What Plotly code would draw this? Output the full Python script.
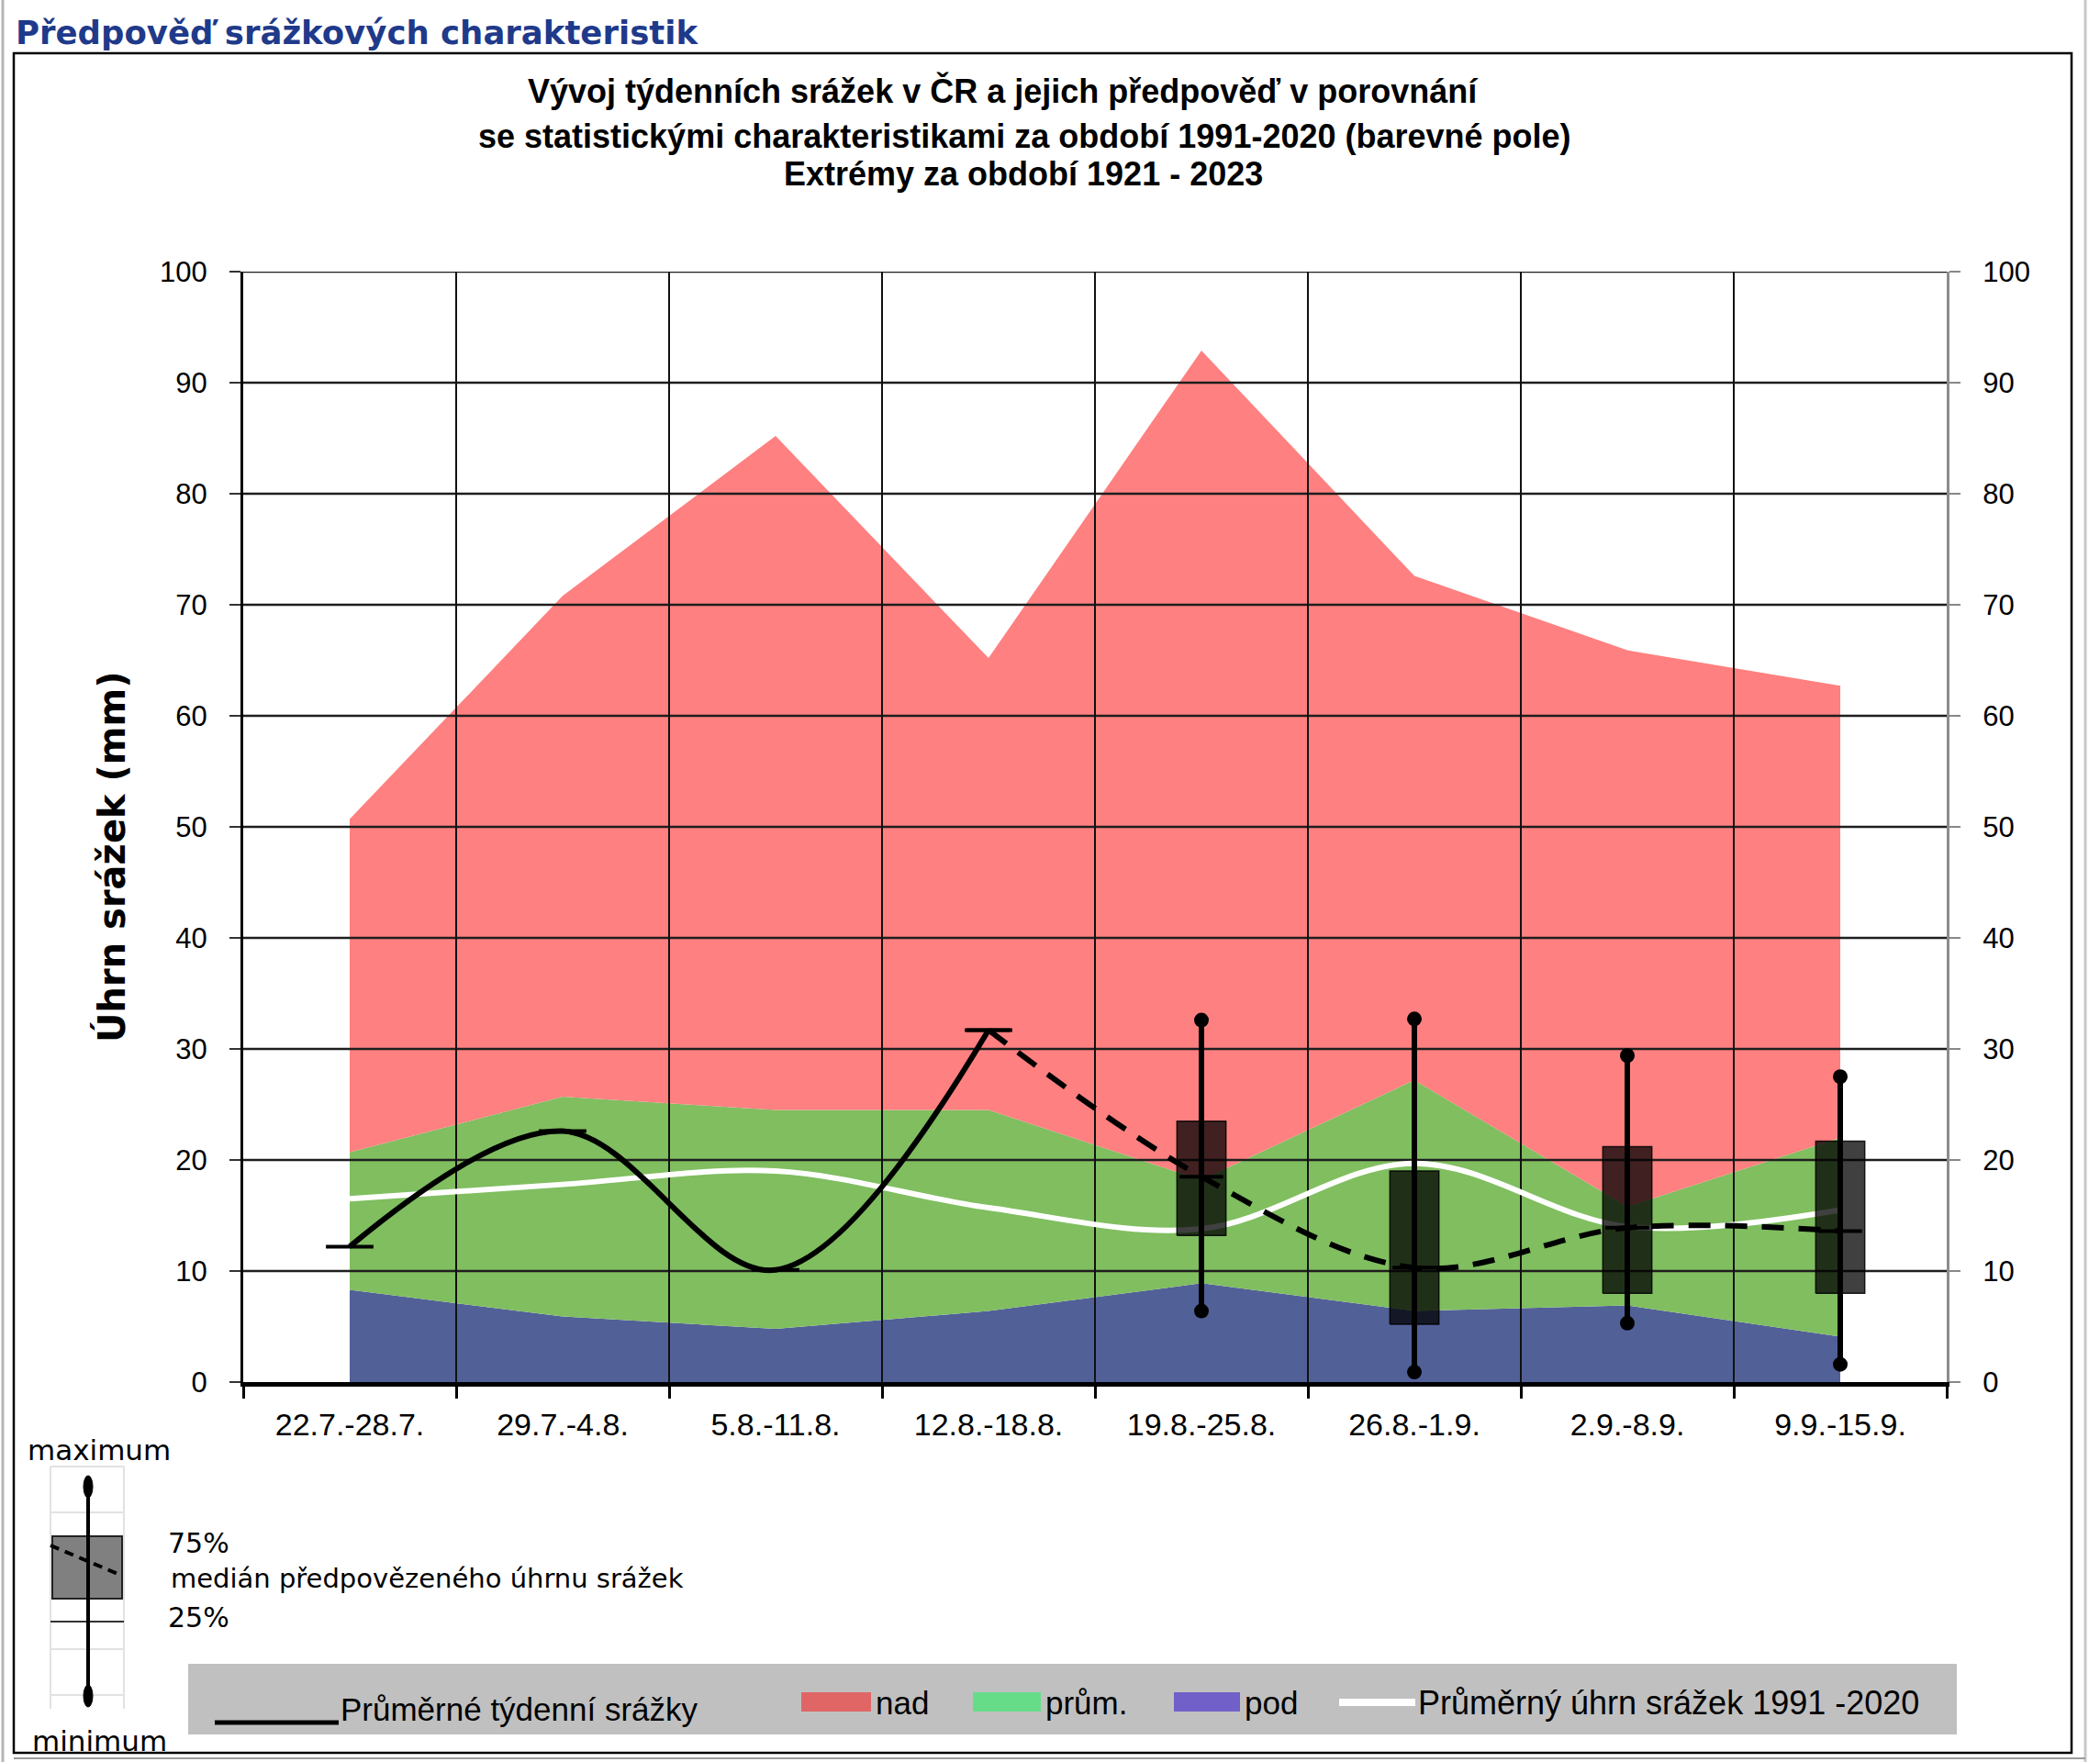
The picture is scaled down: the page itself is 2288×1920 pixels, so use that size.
import plotly.graph_objects as go

# ---------------- data ----------------
categories = ["22.7.-28.7.", "29.7.-4.8.", "5.8.-11.8.", "12.8.-18.8.",
              "19.8.-25.8.", "26.8.-1.9.", "2.9.-8.9.", "9.9.-15.9."]
extreme_max = [50.7, 70.8, 85.2, 65.2, 92.9, 72.6, 65.9, 62.7]   # top of red (nad)
upper_normal = [20.7, 25.7, 24.5, 24.5, 18.2, 27.2, 15.8, 22.0]  # top of green (prům.)
lower_normal = [8.3, 5.9, 4.8, 6.4, 8.9, 6.4, 6.9, 4.1]          # top of blue (pod)
mean_1991_2020 = [16.5, 17.8, 19.0, 15.7, 13.8, 19.7, 14.0, 15.5]
observed_weeks = [0, 1, 2, 3]
observed = [12.2, 22.6, 10.1, 31.7]
forecast_weeks = [3, 4, 5, 6, 7]
forecast_median = [31.7, 18.5, 10.3, 13.9, 13.6]
box_weeks = [4, 5, 6, 7]
box_min = [6.4, 0.9, 5.3, 1.6]
box_q1 = [13.2, 5.2, 8.0, 8.0]
box_q3 = [23.5, 19.0, 21.2, 21.7]
box_max = [32.6, 32.7, 29.4, 27.5]
y_ticks = [0, 10, 20, 30, 40, 50, 60, 70, 80, 90, 100]

# ---------------- layout geometry ----------------
W_FIG, H_FIG = 2288, 1920
L, R, T, B = 265, 2121, 296, 1506
PW, PH = R - L, B - T
BOX_HALF = 0.115


def px(x):
    return (x - L) / PW


def py(y):
    return (B - y) / PH


ARIAL = "Liberation Sans, Arial, sans-serif"
VERD = "DejaVu Sans, Verdana, sans-serif"

idx = list(range(len(categories)))
fig = go.Figure()

# stacked climatology areas
fig.add_trace(go.Scatter(x=idx, y=lower_normal, mode="lines", line=dict(width=0),
                         fill="tozeroy", fillcolor="#526098", hoverinfo="skip"))
fig.add_trace(go.Scatter(x=idx, y=upper_normal, mode="lines", line=dict(width=0),
                         fill="tonexty", fillcolor="#80BE60", hoverinfo="skip"))
fig.add_trace(go.Scatter(x=idx, y=extreme_max, mode="lines", line=dict(width=0),
                         fill="tonexty", fillcolor="#FF8080", hoverinfo="skip"))

# gridlines drawn above the areas
gx, gy = [], []
xlo, xhi = -0.5, len(categories) - 0.5
for v in y_ticks[1:]:
    gx += [xlo, xhi, None]
    gy += [v, v, None]
fig.add_trace(go.Scatter(x=gx, y=gy, mode="lines", line=dict(color="#1e1e1e", width=2.5),
                         hoverinfo="skip"))
vx, vy = [], []
for i in idx[:-1]:
    vx += [i + 0.5, i + 0.5, None]
    vy += [y_ticks[0], y_ticks[-1], None]
fig.add_trace(go.Scatter(x=vx, y=vy, mode="lines", line=dict(color="#111111", width=2),
                         hoverinfo="skip"))

# mean 1991-2020 (white)
fig.add_trace(go.Scatter(x=idx, y=mean_1991_2020, mode="lines",
                         line=dict(color="white", width=6, shape="spline"), hoverinfo="skip"))

# forecast boxes (25-75 %)
bx, by = [], []
for i, q1, q3 in zip(box_weeks, box_q1, box_q3):
    bx += [i - BOX_HALF, i + BOX_HALF, i + BOX_HALF, i - BOX_HALF, i - BOX_HALF, None]
    by += [q1, q1, q3, q3, q1, None]
fig.add_trace(go.Scatter(x=bx, y=by, mode="lines", fill="toself",
                         fillcolor="rgba(0,0,0,0.75)",
                         line=dict(color="rgba(0,0,0,0.85)", width=1.5), hoverinfo="skip"))

# whiskers
wx, wy = [], []
for i, lo, hi in zip(box_weeks, box_min, box_max):
    wx += [i, i, None]
    wy += [lo, hi, None]
fig.add_trace(go.Scatter(x=wx, y=wy, mode="lines", line=dict(color="black", width=6),
                         hoverinfo="skip"))
fig.add_trace(go.Scatter(x=box_weeks + box_weeks, y=box_min + box_max, mode="markers",
                         marker=dict(color="black", size=16, symbol="circle"), hoverinfo="skip"))

# observed weekly precipitation
fig.add_trace(go.Scatter(x=observed_weeks, y=observed, mode="lines+markers",
                         line=dict(color="black", width=6, shape="spline"),
                         marker=dict(symbol="line-ew", size=37,
                                     line=dict(color="black", width=4)),
                         hoverinfo="skip"))
# forecast median
fig.add_trace(go.Scatter(x=forecast_weeks, y=forecast_median, mode="lines+markers",
                         line=dict(color="black", width=6, shape="spline", dash="24px,16px"),
                         marker=dict(symbol="line-ew", size=34,
                                     line=dict(color="black", width=4)),
                         hoverinfo="skip"))

# invisible trace for the right axis
fig.add_trace(go.Scatter(x=[0], y=[0], yaxis="y2", mode="markers",
                         marker=dict(opacity=0), hoverinfo="skip"))

shapes = []
ann = []

# outer frame
shapes.append(dict(type="line", xref="paper", yref="paper", x0=px(3), x1=px(3), y0=py(0), y1=py(1920),
                   line=dict(color="#b5b5b5", width=3)))
shapes.append(dict(type="line", xref="paper", yref="paper", x0=px(2272), x1=px(2272), y0=py(0), y1=py(1920),
                   line=dict(color="#c8c8c8", width=3)))
shapes.append(dict(type="rect", xref="paper", yref="paper", x0=px(15), x1=px(2257), y0=py(58), y1=py(1910),
                   line=dict(color="black", width=2.5)))
shapes.append(dict(type="line", xref="paper", yref="paper", x0=px(15), x1=px(2272), y0=py(1916), y1=py(1916),
                   line=dict(color="#9a9a9a", width=2)))

# headings
ann.append(dict(text="<b>Předpověď srážkových charakteristik</b>", xref="paper", yref="paper",
                x=px(15), y=py(35), xanchor="left", yanchor="middle", showarrow=False,
                font=dict(family=VERD, size=35.5, color="#1F3A8A")))
for txt, cx, cy in [("Vývoj týdenních srážek v ČR a jejich předpověď v porovnání", 1092, 99),
                    ("se statistickými charakteristikami za období 1991-2020 (barevné pole)", 1116, 149),
                    ("Extrémy za období 1921 - 2023", 1115, 190)]:
    ann.append(dict(text="<b>" + txt + "</b>", xref="paper", yref="paper", x=px(cx), y=py(cy),
                    xanchor="center", yanchor="middle", showarrow=False,
                    font=dict(family=ARIAL, size=36, color="black")))

# y-axis title
ann.append(dict(text="<b>Úhrn srážek (mm)</b>", xref="paper", yref="paper", x=px(121), y=py(934),
                xanchor="center", yanchor="middle", textangle=-90, showarrow=False,
                font=dict(family=VERD, size=40, color="black")))

# ---- box-whisker key (bottom left) ----
for xx in (55, 135):
    shapes.append(dict(type="line", xref="paper", yref="paper", x0=px(xx), x1=px(xx), y0=py(1598), y1=py(1862),
                       line=dict(color="#e2e2e2", width=2)))
for yy in (1598, 1648, 1797, 1847):
    shapes.append(dict(type="line", xref="paper", yref="paper", x0=px(55), x1=px(135), y0=py(yy), y1=py(yy),
                       line=dict(color="#e2e2e2", width=2)))
shapes.append(dict(type="rect", xref="paper", yref="paper", x0=px(57), x1=px(133), y0=py(1674), y1=py(1742),
                   fillcolor="#808080", line=dict(color="#222222", width=2)))
shapes.append(dict(type="line", xref="paper", yref="paper", x0=px(55), x1=px(135), y0=py(1767), y1=py(1767),
                   line=dict(color="#333333", width=2)))
shapes.append(dict(type="line", xref="paper", yref="paper", x0=px(96), x1=px(96), y0=py(1620), y1=py(1848),
                   line=dict(color="black", width=4)))
shapes.append(dict(type="line", xref="paper", yref="paper", x0=px(55), x1=px(133), y0=py(1684), y1=py(1717),
                   line=dict(color="black", width=4, dash="10px,7px")))
for cy in (1620, 1848):
    shapes.append(dict(type="circle", xref="paper", yref="paper", x0=px(91), x1=px(101),
                       y0=py(cy - 12), y1=py(cy + 12), fillcolor="black", line=dict(color="black", width=1)))
for txt, x, y, anchor, sz in [("maximum", 108, 1580, "center", 31),
                              ("minimum", 108, 1897, "center", 31),
                              ("75%", 181, 1681, "left", 30),
                              ("25%", 181, 1762, "left", 30),
                              ("medián předpovězeného úhrnu srážek", 184, 1720, "left", 29)]:
    ann.append(dict(text=txt, xref="paper", yref="paper", x=px(x), y=py(y), xanchor=anchor,
                    yanchor="middle", showarrow=False, font=dict(family=VERD, size=sz, color="black")))

# ---- legend bar ----
shapes.append(dict(type="rect", xref="paper", yref="paper", x0=px(205), x1=px(2132), y0=py(1813), y1=py(1890),
                   fillcolor="#C0C0C0", line=dict(width=0)))
shapes.append(dict(type="line", xref="paper", yref="paper", x0=px(234), x1=px(369), y0=py(1877), y1=py(1877),
                   line=dict(color="black", width=5)))
for x0, x1, col in [(873, 949, "#E06666"), (1060, 1134, "#66DC88"), (1279, 1351, "#7060C8")]:
    shapes.append(dict(type="rect", xref="paper", yref="paper", x0=px(x0), x1=px(x1), y0=py(1844), y1=py(1865),
                       fillcolor=col, line=dict(width=0)))
shapes.append(dict(type="line", xref="paper", yref="paper", x0=px(1459), x1=px(1542), y0=py(1855), y1=py(1855),
                   line=dict(color="white", width=8)))
for txt, x, y, sz in [("Průměrné týdenní srážky", 369, 1862, 35), ("nad", 952, 1855, 35),
                      ("prům.", 1137, 1855, 35), ("pod", 1354, 1855, 35),
                      ("Průměrný úhrn srážek 1991 -2020", 1543, 1855, 36)]:
    ann.append(dict(text=txt, xref="paper", yref="paper", x=px(x), y=py(y), xanchor="left",
                    yanchor="middle", showarrow=False, font=dict(family=ARIAL, size=sz, color="black")))

tickfont = dict(family=ARIAL, size=31, color="black")
fig.update_layout(
    width=W_FIG, height=H_FIG, autosize=False,
    margin=dict(l=L, r=W_FIG - R, t=T, b=H_FIG - B, pad=0),
    paper_bgcolor="white", plot_bgcolor="white",
    showlegend=False, hovermode=False,
    shapes=shapes, annotations=ann,
    xaxis=dict(range=[xlo, xhi], tickvals=idx, ticktext=categories, ticks="",
               showgrid=False, zeroline=False, showline=True, linecolor="black", linewidth=5,
               tickfont=dict(family=ARIAL, size=34, color="black"), ticklabelstandoff=12,
               minor=dict(tickvals=[i - 0.5 for i in idx] + [xhi], ticks="outside", ticklen=13,
                          tickwidth=3, tickcolor="black", showgrid=False)),
    yaxis=dict(range=[y_ticks[0], y_ticks[-1]], tickvals=y_ticks, ticks="outside", ticklen=12,
               tickwidth=2, tickcolor="#333333", showgrid=False, zeroline=False,
               showline=True, linecolor="black", linewidth=3, tickfont=tickfont,
               ticklabelstandoff=18),
    yaxis2=dict(range=[y_ticks[0], y_ticks[-1]], tickvals=y_ticks, overlaying="y", side="right",
                ticks="outside", ticklen=12, tickwidth=2, tickcolor="#888888", showgrid=False,
                zeroline=False, showline=True, linecolor="#8c8c8c", linewidth=3, tickfont=tickfont,
                ticklabelstandoff=18),
)

fig.write_html("out.html")
